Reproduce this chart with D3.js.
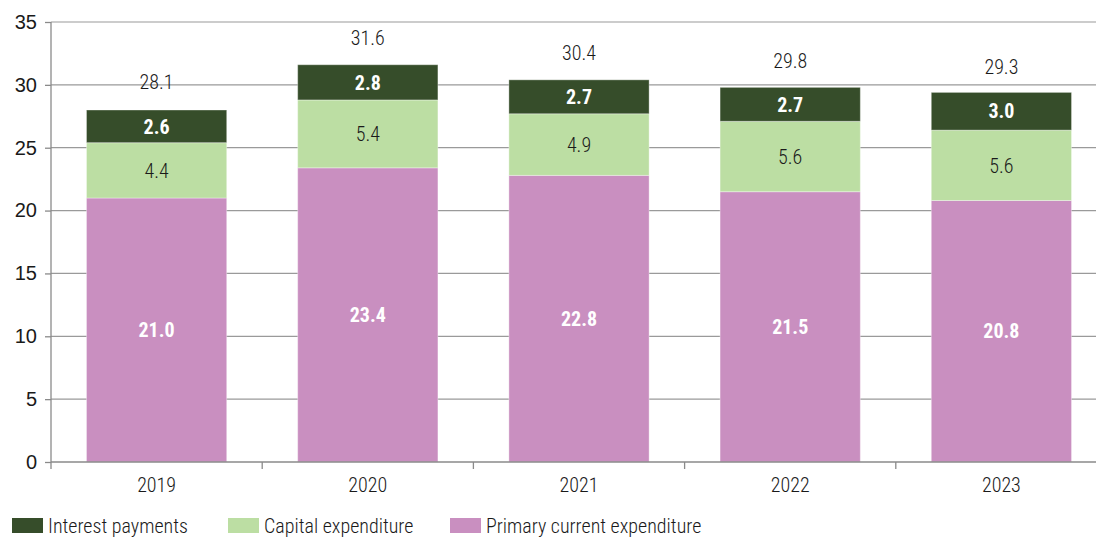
<!DOCTYPE html>
<html>
<head>
<meta charset="utf-8">
<script src="https://cdn.jsdelivr.net/npm/d3@7"></script>
<style>
  html, body { margin: 0; padding: 0; background: #fff; }
  svg { display: block; font-family: "Roboto Condensed", "Roboto", sans-serif; font-weight: 300; }
</style>
</head>
<body>
<svg id="chart" width="1096" height="537"></svg>
<script>
// Government expenditure, % of GDP
const years = ["2019", "2020", "2021", "2022", "2023"];
const primaryCurrent = [21.0, 23.4, 22.8, 21.5, 20.8];
const capitalExp = [4.4, 5.4, 4.9, 5.6, 5.6];
const interestPay = [2.6, 2.8, 2.7, 2.7, 3.0];
const totals = [28.1, 31.6, 30.4, 29.8, 29.3];
const yTicks = [0, 5, 10, 15, 20, 25, 30, 35];

const seriesNames = ["Primary current expenditure", "Capital expenditure", "Interest payments"];
const colors = { "Primary current expenditure": "#c98fc0", "Capital expenditure": "#bcdea3", "Interest payments": "#364d2a" };
const labelColors = { "Primary current expenditure": "#ffffff", "Capital expenditure": "#1a1a1a", "Interest payments": "#ffffff" };
const labelWeights = { "Primary current expenditure": "bold", "Capital expenditure": "300", "Interest payments": "bold" };

const rows = years.map((yr, i) => ({
  year: yr,
  "Primary current expenditure": primaryCurrent[i],
  "Capital expenditure": capitalExp[i],
  "Interest payments": interestPay[i],
  total: totals[i]
}));

const svg = d3.select("#chart");
const plotLeft = 51, plotTop = 22, plotBottom = 462, plotRight = 1107;
const fontSize = 20;

const x = d3.scaleBand().domain(years).range([plotLeft, plotRight]).paddingInner(0.336).paddingOuter(0.168);
const y = d3.scaleLinear().domain([0, 35]).range([plotBottom, plotTop]);

// horizontal gridlines
svg.append("g").selectAll("line").data(yTicks.filter(t => t > 0)).join("line")
  .attr("x1", plotLeft).attr("x2", 1096)
  .attr("y1", d => y(d)).attr("y2", d => y(d))
  .attr("stroke", "#9a9a9a").attr("stroke-width", 1.2);

// stacked bars
const stack = d3.stack().keys(seriesNames)(rows);
const layers = svg.append("g").selectAll("g").data(stack).join("g")
  .attr("fill", d => colors[d.key]);
layers.selectAll("rect").data(d => d).join("rect")
  .attr("x", d => x(d.data.year))
  .attr("width", x.bandwidth())
  .attr("y", d => y(d[1]))
  .attr("height", d => y(d[0]) - y(d[1]))
  .attr("stroke", "rgba(255,255,255,0.35)").attr("stroke-width", 1);

// segment value labels
stack.forEach(layer => {
  svg.append("g").selectAll("text").data(layer).join("text")
    .attr("x", d => x(d.data.year) + x.bandwidth() / 2)
    .attr("y", d => (y(d[0]) + y(d[1])) / 2)
    .attr("dy", "0.36em")
    .attr("text-anchor", "middle")
    .attr("font-size", fontSize)
    .attr("font-weight", labelWeights[layer.key])
    .attr("fill", labelColors[layer.key])
    .text(d => d.data[layer.key].toFixed(1));
});

// total labels above each bar
svg.append("g").selectAll("text").data(rows).join("text")
  .attr("x", d => x(d.year) + x.bandwidth() / 2)
  .attr("y", d => y(d.total) - 27)
  .attr("dy", "0.36em")
  .attr("text-anchor", "middle")
  .attr("font-size", fontSize)
  .attr("fill", "#1a1a1a")
  .text(d => d.total.toFixed(1));

// y axis
const yAxis = svg.append("g").attr("transform", `translate(${plotLeft},0)`)
  .call(d3.axisLeft(y).tickValues(yTicks).tickSize(6).tickPadding(8));
yAxis.select(".domain").attr("stroke", "#8a8a8a").attr("stroke-width", 1.3).attr("d", `M0,${plotTop}V${plotBottom}`);
yAxis.selectAll(".tick line").attr("stroke", "#8a8a8a").attr("stroke-width", 1.3);
yAxis.selectAll("text").attr("font-size", fontSize).attr("fill", "#1a1a1a").attr("font-family", null);

// x axis with ticks between categories
const xAxisG = svg.append("g").attr("transform", `translate(0,${plotBottom})`);
xAxisG.append("line").attr("x1", plotLeft).attr("x2", 1096).attr("y1", 0).attr("y2", 0)
  .attr("stroke", "#8a8a8a").attr("stroke-width", 1.3);
const step = x.step();
const sepX = years.slice(1).map(yr => x(yr) - (step - x.bandwidth()) / 2);
xAxisG.selectAll("line.sep").data([plotLeft].concat(sepX)).join("line").attr("class", "sep")
  .attr("x1", d => d).attr("x2", d => d).attr("y1", 0).attr("y2", 7)
  .attr("stroke", "#8a8a8a").attr("stroke-width", 1.3);
xAxisG.selectAll("text").data(years).join("text")
  .attr("x", d => x(d) + x.bandwidth() / 2)
  .attr("y", 23)
  .attr("dy", "0.36em")
  .attr("text-anchor", "middle")
  .attr("font-size", fontSize)
  .attr("fill", "#1a1a1a")
  .text(d => d);

// legend
const legendItems = [
  { name: "Interest payments", x: 12 },
  { name: "Capital expenditure", x: 228 },
  { name: "Primary current expenditure", x: 450 }
];
const lg = svg.append("g").selectAll("g").data(legendItems).join("g")
  .attr("transform", d => `translate(${d.x},518)`);
lg.append("rect").attr("width", 31).attr("height", 15).attr("fill", d => colors[d.name]);
lg.append("text").attr("x", 36).attr("y", 8).attr("dy", "0.36em")
  .attr("font-size", fontSize).attr("fill", "#1a1a1a").text(d => d.name);
</script>
</body>
</html>
